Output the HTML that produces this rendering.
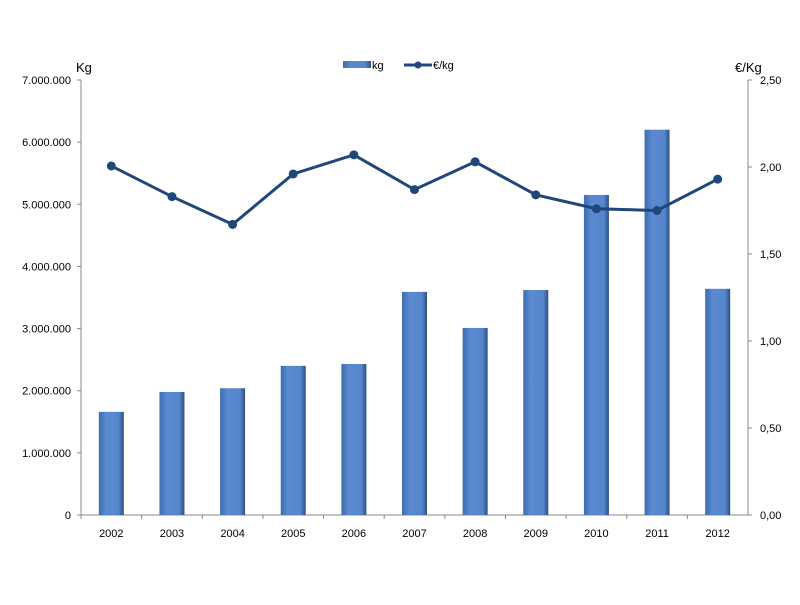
<!DOCTYPE html>
<html><head><meta charset="utf-8"><style>
body{margin:0;background:#fff;font-family:"Liberation Sans",sans-serif;}
svg text{font-family:"Liberation Sans",sans-serif;font-size:11px;fill:#000;}
</style></head><body>
<svg id="c" width="800" height="600">
<defs>
<linearGradient id="bg" x1="0" x2="1" y1="0" y2="0">
<stop offset="0" stop-color="#3d6db0"/><stop offset="0.3" stop-color="#5b8ad0"/><stop offset="0.8" stop-color="#5585cb"/><stop offset="1" stop-color="#2d4f80"/>
</linearGradient>
</defs>
</svg>
<script>
const years=["2002","2003","2004","2005","2006","2007","2008","2009","2010","2011","2012"];
const kg=[1660000,1980000,2040000,2400000,2430000,3590000,3010000,3620000,5150000,6200000,3640000];
const price=[2.006,1.83,1.67,1.96,2.07,1.87,2.03,1.84,1.76,1.75,1.93];
const leftTicks=["0","1.000.000","2.000.000","3.000.000","4.000.000","5.000.000","6.000.000","7.000.000"];
const rightTicks=["0,00","0,50","1,00","1,50","2,00","2,50"];
const svg=document.getElementById('c');const NS='http://www.w3.org/2000/svg';
const X0=81,X1=748,Y0=515,Y1=80;
const yL=v=>Y0-(v/7000000)*(Y0-Y1);
const yR=v=>Y0-(v/2.5)*(Y0-Y1);
const step=(X1-X0)/years.length;
const xc=i=>X0+step*(i+0.5);
function el(t,a,txt){const e=document.createElementNS(NS,t);for(const k in a)e.setAttribute(k,a[k]);if(txt!==undefined)e.textContent=txt;svg.appendChild(e);return e;}
let e;
e=el('line',{x1:X0,y1:Y1,x2:X0,y2:Y0,stroke:'#888'});


e=el('line',{x1:X1,y1:Y1,x2:X1,y2:Y0,stroke:'#888'});


e=el('line',{x1:X0,y1:Y0,x2:X1,y2:Y0,stroke:'#888'});


leftTicks.forEach((t,i)=>{const y=yL(i*1000000);
el('line',{x1:X0-4,y1:y,x2:X0,y2:y,stroke:'#888'});
e=el('text',{x:X0-10,y:y+4,'text-anchor':'end'},t);

});
rightTicks.forEach((t,i)=>{const y=yR(i*0.5);
el('line',{x1:X1,y1:y,x2:X1+4,y2:y,stroke:'#888'});
e=el('text',{x:X1+12,y:y+4},t);

});
years.forEach((yr,i)=>{
el('line',{x1:X0+step*i,y1:Y0,x2:X0+step*i,y2:Y0+4,stroke:'#888'});
e=el('text',{x:xc(i),y:Y0+22,'text-anchor':'middle'},yr);


e=el('rect',{x:xc(i)-12.5,y:yL(kg[i]),width:25,height:Y0-yL(kg[i]),fill:'url(#bg)'});


});
e=el('polyline',{points:price.map((p,i)=>xc(i)+','+yR(p)).join(' '),fill:'none',stroke:'#1f477a','stroke-width':3});


price.forEach((p,i)=>{e=el('circle',{cx:xc(i),cy:yR(p),r:4.5,fill:'#1f477a'});

});
e=el('text',{x:76,y:72,style:'font-size:13px'},'Kg');


e=el('text',{x:735,y:72,style:'font-size:13px'},'€/Kg');


e=el('rect',{x:343,y:61,width:28,height:7,fill:'url(#bg)'});


e=el('text',{x:372,y:69},'kg');


e=el('line',{x1:404,y1:65,x2:432,y2:65,stroke:'#1f477a','stroke-width':3});


el('circle',{cx:418,cy:65,r:3.5,fill:'#1f477a'});
e=el('text',{x:433,y:69},'€/kg');


</script>
</body></html>
